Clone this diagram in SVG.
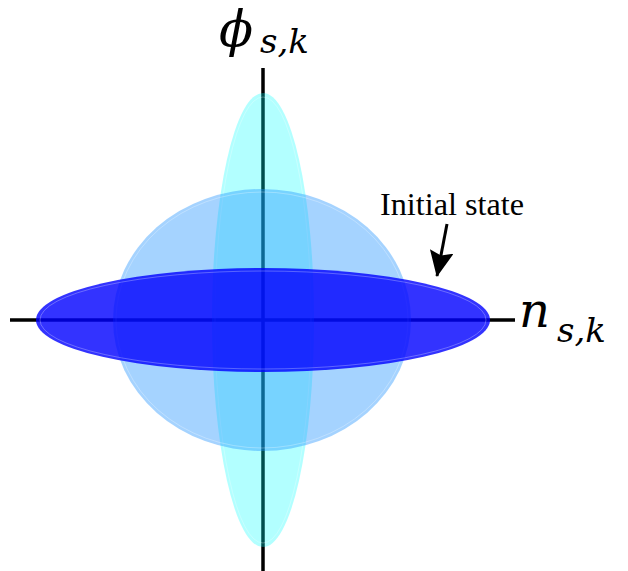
<svg xmlns="http://www.w3.org/2000/svg" width="628" height="571" viewBox="0 0 628 571">
<defs>
<style>
.axis{stroke:#000;stroke-width:3.5;fill:none}
.math{font-family:"DejaVu Serif","Liberation Serif",serif;font-style:italic;fill:#000}
.lbl{font-family:"Liberation Serif","Times New Roman",serif;font-size:31px;fill:#000}
.edge{fill:none;stroke:#fff;stroke-opacity:0.28;stroke-width:1}
</style>
<marker id="ah" markerWidth="26" markerHeight="24" refX="25" refY="12" orient="auto" markerUnits="userSpaceOnUse" viewBox="0 0 26 24">
<path d="M0,0 L26,12 L0,24 L4,12 Z" fill="#000"/>
</marker>
</defs>
<rect width="628" height="571" fill="#fff"/>
<g id="axes">
<line class="axis" x1="263" y1="68" x2="263" y2="571"/>
<line class="axis" x1="10" y1="320" x2="515" y2="320"/>
</g>
<g id="ellipse-phi">
<ellipse cx="263" cy="320" rx="51" ry="227" fill="#00ffff" fill-opacity="0.3"/>
<ellipse class="edge" cx="263" cy="320" rx="48" ry="223"/>
</g>
<g id="ellipse-circle">
<ellipse cx="262" cy="320" rx="149" ry="131" fill="#1e90ff" fill-opacity="0.4"/>
<ellipse class="edge" cx="262" cy="320" rx="146" ry="128"/>
</g>
<g id="ellipse-initial">
<ellipse cx="263" cy="320" rx="227" ry="52" fill="#0000ff" fill-opacity="0.8"/>
<ellipse class="edge" cx="263" cy="320" rx="223" ry="49"/>
</g>
<g id="label-phi">
<text class="math" x="219" y="46" font-size="50">ϕ</text>
<text class="math" x="260" y="53" font-size="34">s,k</text>
</g>
<g id="label-n">
<text class="math" x="519" y="327" font-size="48">n</text>
<text class="math" x="557" y="342" font-size="34">s,k</text>
</g>
<g id="label-initial">
<text class="lbl" x="380" y="215" textLength="144" lengthAdjust="spacingAndGlyphs">Initial state</text>
</g>
<g id="connectors">
<line x1="447" y1="224" x2="437" y2="276" stroke="#000" stroke-width="3" marker-end="url(#ah)"/>
</g>
</svg>
